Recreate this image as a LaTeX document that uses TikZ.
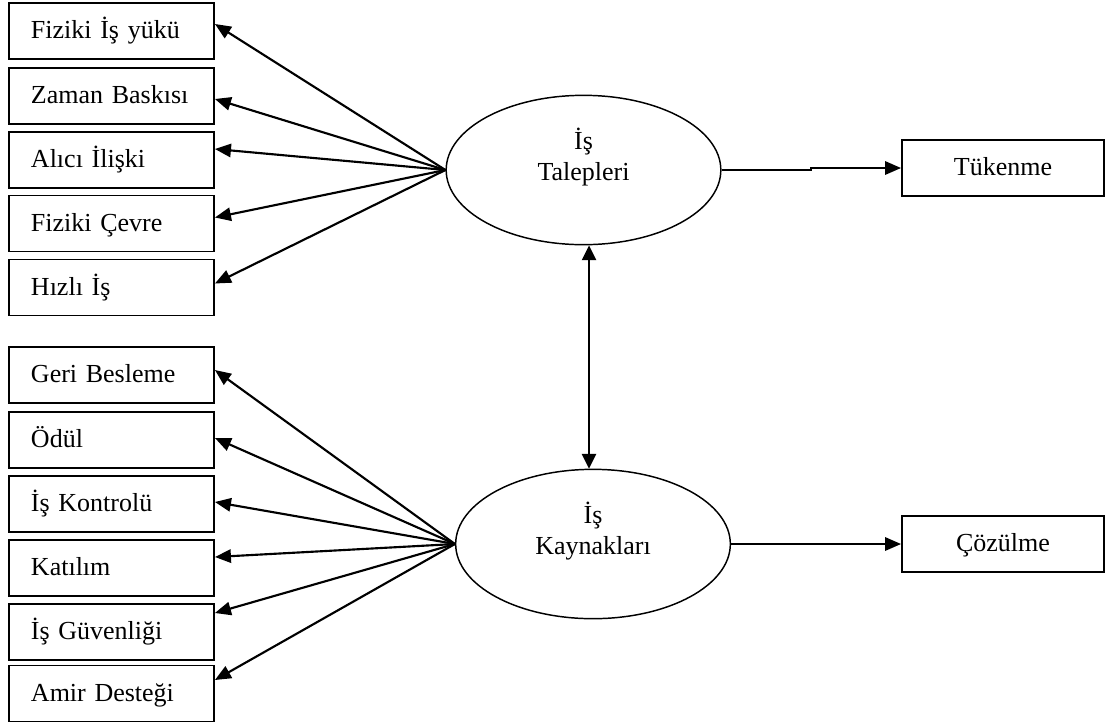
\documentclass[tikz,border=0pt]{standalone}
\usepackage{fontspec}
\setmainfont{Liberation Serif}
\usetikzlibrary{shapes.geometric,arrows.meta,calc}
\newcommand{\dgfont}{\fontsize{19.5pt}{23.25pt}\selectfont}
\tikzset{
  lbox/.style={draw, line width=1.4pt, minimum height=42pt, text width=120.75pt,
    inner xsep=16.5pt, inner ysep=0pt, align=left, text height=11.5pt, text depth=0pt, font=\dgfont},
  rbox/.style={draw, line width=1.4pt, minimum width=151.5pt, minimum height=42pt,
    inner sep=0pt, align=center, text height=11.5pt, text depth=0pt, font=\dgfont},
  oval/.style={draw, ellipse, line width=1.1pt, minimum width=206pt, minimum height=112pt,
    inner sep=0pt, text height=20.75pt, text depth=5pt, font=\dgfont},
  arr/.style={line width=1.6pt, -{Triangle[length=12pt,width=10pt]}},
  dblarr/.style={line width=1.6pt, {Triangle[length=11pt,width=10.5pt]}-{Triangle[length=11pt,width=10.5pt]}},
}
\begin{document}
\begin{tikzpicture}[x=0.75pt,y=-0.75pt]
\useasboundingbox (0,0) rectangle (1109,722);
% left boxes, top group
\node[lbox] (b1) at (111.5,31) {Fiziki İş yükü};
\node[lbox] (b2) at (111.5,96) {Zaman Baskısı};
\node[lbox] (b3) at (111.5,160) {Alıcı İlişki};
\node[lbox] (b4) at (111.5,223.5) {Fiziki Çevre};
\node[lbox] (b5) at (111.5,287.5) {Hızlı İş};
% left boxes, bottom group
\node[lbox] (c1) at (111.5,375) {Geri Besleme};
\node[lbox] (c2) at (111.5,440) {Ödül};
\node[lbox] (c3) at (111.5,504) {İş Kontrolü};
\node[lbox] (c4) at (111.5,568) {Katılım};
\node[lbox] (c5) at (111.5,632) {İş Güvenliği};
\node[lbox] (c6) at (111.5,693.5) {Amir Desteği};
% ellipses
\node[oval] (tal) at (583.5,170) {\begin{tabular}[b]{@{}c@{}}İş\\Talepleri\end{tabular}};
\node[oval] (kay) at (593,544) {\begin{tabular}[b]{@{}c@{}}İş\\Kaynakları\end{tabular}};
% right boxes
\node[rbox] (tuk) at (1003,168) {Tükenme};
\node[rbox] (coz) at (1003,544) {Çözülme};
% arrows to the top group
\draw[arr] (tal.west) -- ($(b1.east)+(0,-7)$);
\draw[arr] (tal.west) -- ($(b2.east)+(0,3)$);
\draw[arr] (tal.west) -- ($(b3.east)+(0,-11)$);
\draw[arr] (tal.west) -- ($(b4.east)+(0,-6)$);
\draw[arr] (tal.west) -- ($(b5.east)+(0,-4)$);
% arrows to the bottom group
\draw[arr] (kay.west) -- ($(c1.east)+(0,-5)$);
\draw[arr] (kay.west) -- ($(c2.east)+(0,-2)$);
\draw[arr] (kay.west) -- ($(c3.east)+(0,-2)$);
\draw[arr] (kay.west) -- ($(c4.east)+(0,-11)$);
\draw[arr] (kay.west) -- ($(c5.east)+(0,-19)$);
\draw[arr] (kay.west) -- ($(c6.east)+(0,-13.5)$);
% right arrows
\draw[arr] (tal.east) -- ++(89,0) |- (tuk.west);
\draw[arr] (kay.east) -- (coz.west);
% double arrow
\draw[dblarr] ($(tal.south)+(5.5,0)$) -- ($(kay.north)+(-4,0)$);
\end{tikzpicture}
\end{document}
